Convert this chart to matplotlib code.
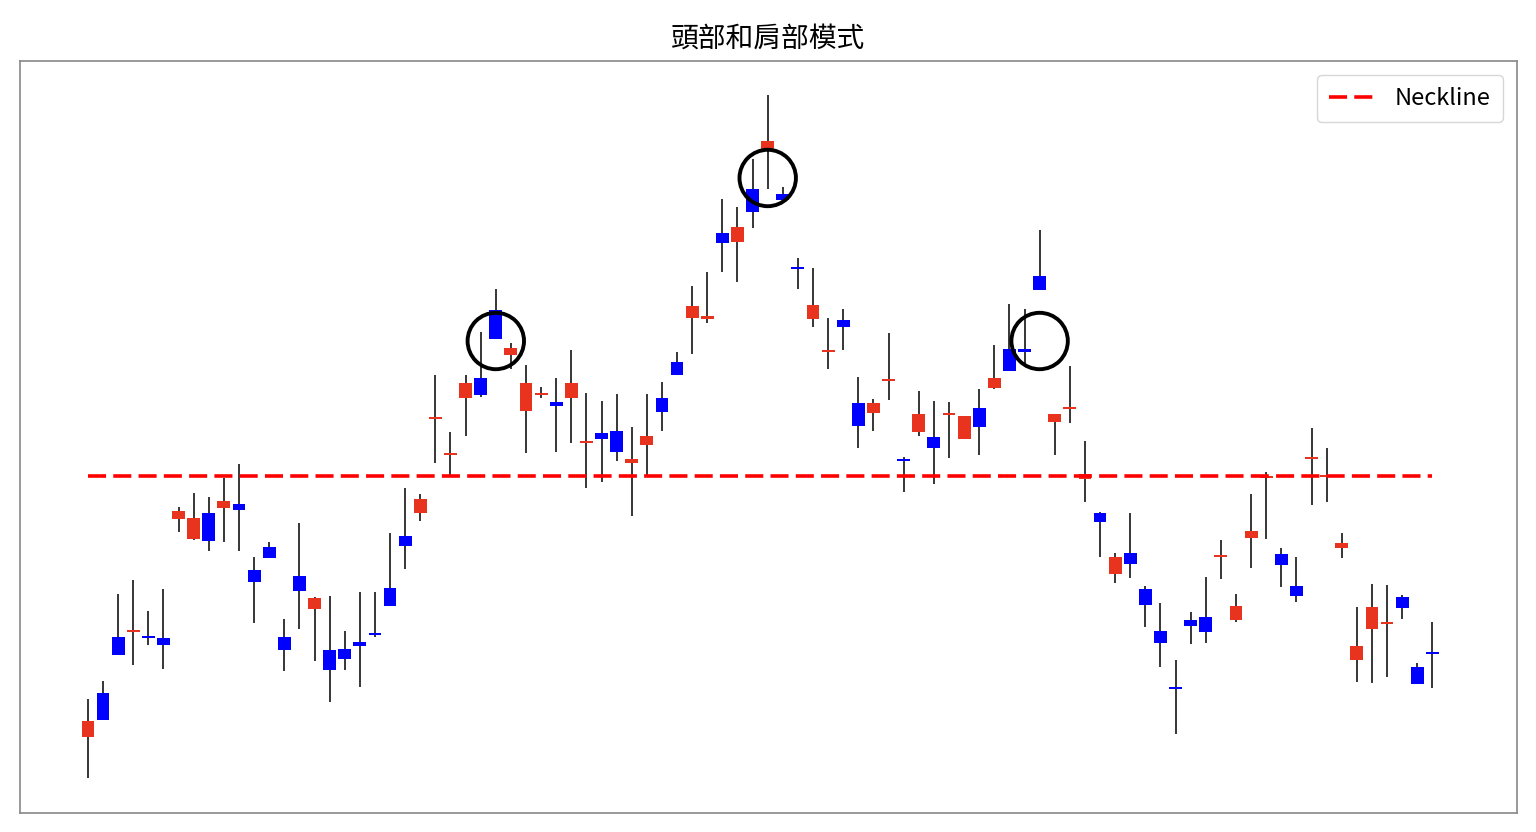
import matplotlib.pyplot as plt
import numpy as np

plt.rcParams["font.family"] = ["Noto Sans CJK TC", "DejaVu Sans"]

# OHLC values (arbitrary price units)
opens = [63, 107, 163, 168, 164, 162, 281, 261, 287, 292, 296, 230, 253, 163, 224, 191, 150, 151, 158, 167,
         212, 264, 287, 381, 345, 402, 422, 490, 445, 389, 405, 398, 402, 357, 367, 369, 337, 355, 402, 438,
         482, 481, 567, 558, 611, 650, 606, 532, 481, 448, 480, 397, 387, 419, 340, 368, 363, 385, 361, 392,
         412, 451, 451, 524, 378, 391, 321, 287, 226, 247, 211, 169, 112, 180, 183, 243, 180, 262, 322, 246,
         214, 341, 323, 252, 140, 171, 176, 203, 133, 148]
closes = [79, 80, 145, 169, 162, 155, 289, 282, 259, 299, 290, 218, 242, 150, 209, 202, 130, 141, 154, 165,
          194, 254, 301, 382, 346, 417, 405, 461, 452, 417, 406, 394, 417, 358, 361, 348, 341, 364, 388, 425,
          494, 484, 557, 573, 588, 659, 600, 531, 495, 449, 473, 374, 397, 420, 339, 386, 352, 386, 384, 373,
          422, 429, 448, 510, 386, 392, 326, 278, 243, 236, 195, 157, 111, 174, 168, 244, 194, 269, 323, 235,
          204, 342, 324, 257, 154, 193, 177, 192, 116, 146]
highs = [101, 119, 206, 220, 189, 211, 293, 307, 303, 322, 336, 243, 258, 181, 277, 203, 204, 169, 208, 208,
         267, 312, 306, 425, 368, 425, 468, 511, 457, 435, 413, 422, 450, 407, 399, 406, 373, 406, 418, 448,
         514, 528, 601, 593, 641, 705, 613, 542, 532, 482, 491, 423, 401, 467, 343, 409, 399, 398, 384, 411,
         455, 496, 491, 570, 386, 434, 359, 288, 247, 287, 214, 197, 140, 188, 223, 260, 206, 306, 328, 252,
         243, 372, 352, 267, 193, 216, 215, 205, 137, 178]
lows = [22, 80, 145, 135, 155, 131, 268, 260, 249, 258, 249, 177, 242, 129, 171, 139, 98, 130, 113, 163,
        194, 231, 279, 337, 323, 364, 403, 461, 431, 347, 402, 348, 357, 312, 318, 339, 284, 323, 369, 425,
        446, 477, 528, 518, 572, 611, 600, 511, 473, 431, 450, 352, 369, 400, 308, 364, 316, 342, 361, 345,
        411, 429, 433, 510, 345, 377, 298, 243, 217, 222, 173, 133, 66, 156, 157, 221, 178, 232, 261, 213,
        198, 295, 298, 242, 118, 117, 123, 181, 116, 112]

neckline = 324
marked_idx = [27, 45, 63]
marked_level = [459, 622, 459]

RED = "#e8331f"
BLUE = "#0000ff"

opens = np.array(opens)
closes = np.array(closes)
x = np.arange(len(opens))
colors = [RED if c >= o else BLUE for o, c in zip(opens, closes)]
body_bottom = np.minimum(opens, closes)
body_height = np.maximum(np.abs(closes - opens), 2)

fig = plt.figure(figsize=(15.36, 8.32), dpi=100)
ax = fig.add_axes([0.013, 0.0228, 0.9746, 0.9039])

ax.vlines(x, lows, highs, color="black", linewidth=1.1, zorder=1)
ax.bar(x, body_height, bottom=body_bottom, width=0.85, color=colors, zorder=2)

ax.plot([x[0], x[-1]], [neckline, neckline], color="#ff0000", linewidth=2.6,
        linestyle=(0, (5, 2)), label="Neckline", zorder=3)

ax.scatter(marked_idx, marked_level, s=1650, facecolors="none", edgecolors="black",
           linewidths=2.8, zorder=4)

ax.set_xlim(-4.5, 94.6)
ax.set_ylim(-13, 739)
ax.set_xticks([])
ax.set_yticks([])
for spine in ax.spines.values():
    spine.set_color("#888888")
    spine.set_linewidth(1.2)

ax.set_title("頭部和肩部模式", fontsize=20, pad=10)
ax.legend(loc="upper right", fontsize=17, handlelength=2.0, borderpad=0.5,
          borderaxespad=0.6)

fig.savefig("out.png", dpi=100)
